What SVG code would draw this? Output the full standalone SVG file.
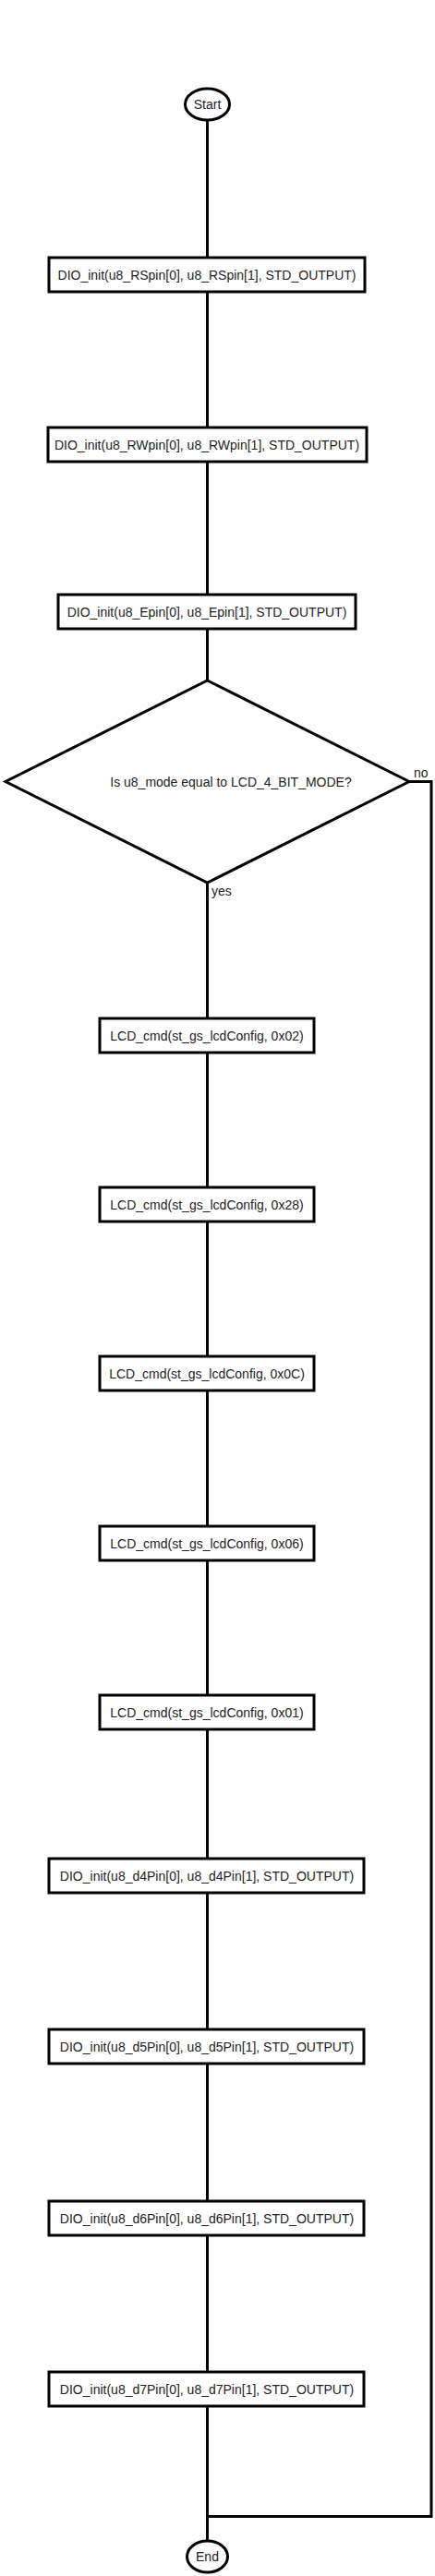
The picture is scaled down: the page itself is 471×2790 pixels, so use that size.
<svg xmlns="http://www.w3.org/2000/svg" width="471" height="2790" viewBox="0 0 471 2790">
<style>
.n{fill:#fff;stroke:#000;stroke-width:3}
.t{font-family:"Liberation Sans",Arial,sans-serif;font-size:14px;fill:#222;text-anchor:middle}
.l{font-family:"Liberation Sans",Arial,sans-serif;font-size:14px;fill:#222}
.c{fill:none;stroke:#000;stroke-width:3}
</style>
<rect width="471" height="2790" fill="#fff"/>
<g id="connectors">
<path class="c" d="M224.5 130V279"/>
<path class="c" d="M224.5 316V463"/>
<path class="c" d="M224.5 500V644"/>
<path class="c" d="M224.5 681V737"/>
<path class="c" d="M224.5 956V1103"/>
<path class="c" d="M224.5 1140V1286"/>
<path class="c" d="M224.5 1323V1469"/>
<path class="c" d="M224.5 1506V1653"/>
<path class="c" d="M224.5 1690V1836"/>
<path class="c" d="M224.5 1873V2013"/>
<path class="c" d="M224.5 2050V2198"/>
<path class="c" d="M224.5 2235V2384"/>
<path class="c" d="M224.5 2421V2569"/>
<path class="c" d="M224.5 2606V2752"/>
<path class="c" d="M443 846.5H467V2725.5H224.5"/>
<text class="l" x="448" y="842">no</text>
<text class="l" x="229" y="970">yes</text>
</g>
<g id="start"><ellipse class="n" cx="224.5" cy="113" rx="24" ry="17"/><text class="t" x="224.5" y="118">Start</text></g>
<g id="rs"><rect class="n" x="53" y="279" width="342" height="37"/><text class="t" x="224" y="302.5">DIO_init(u8_RSpin[0], u8_RSpin[1], STD_OUTPUT)</text></g>
<g id="rw"><rect class="n" x="52" y="463" width="345" height="37"/><text class="t" x="224" y="486.5">DIO_init(u8_RWpin[0], u8_RWpin[1], STD_OUTPUT)</text></g>
<g id="e"><rect class="n" x="63" y="644" width="322" height="37"/><text class="t" x="224" y="667.5">DIO_init(u8_Epin[0], u8_Epin[1], STD_OUTPUT)</text></g>
<g id="decision"><polygon class="n" points="224.5,737 443,846.5 224.5,956 6,846.5"/><text class="t" x="250" y="851.5">Is u8_mode equal to LCD_4_BIT_MODE?</text></g>
<g id="c02"><rect class="n" x="108" y="1103" width="232" height="37"/><text class="t" x="224" y="1126.5">LCD_cmd(st_gs_lcdConfig, 0x02)</text></g>
<g id="c28"><rect class="n" x="108" y="1286" width="232" height="37"/><text class="t" x="224" y="1309.5">LCD_cmd(st_gs_lcdConfig, 0x28)</text></g>
<g id="c0c"><rect class="n" x="108" y="1469" width="232" height="37"/><text class="t" x="224" y="1492.5">LCD_cmd(st_gs_lcdConfig, 0x0C)</text></g>
<g id="c06"><rect class="n" x="108" y="1653" width="232" height="37"/><text class="t" x="224" y="1676.5">LCD_cmd(st_gs_lcdConfig, 0x06)</text></g>
<g id="c01"><rect class="n" x="108" y="1836" width="232" height="37"/><text class="t" x="224" y="1859.5">LCD_cmd(st_gs_lcdConfig, 0x01)</text></g>
<g id="d4"><rect class="n" x="53" y="2013" width="341" height="37"/><text class="t" x="224" y="2036.5">DIO_init(u8_d4Pin[0], u8_d4Pin[1], STD_OUTPUT)</text></g>
<g id="d5"><rect class="n" x="53" y="2198" width="341" height="37"/><text class="t" x="224" y="2221.5">DIO_init(u8_d5Pin[0], u8_d5Pin[1], STD_OUTPUT)</text></g>
<g id="d6"><rect class="n" x="53" y="2384" width="341" height="37"/><text class="t" x="224" y="2407.5">DIO_init(u8_d6Pin[0], u8_d6Pin[1], STD_OUTPUT)</text></g>
<g id="d7"><rect class="n" x="53" y="2569" width="341" height="37"/><text class="t" x="224" y="2592.5">DIO_init(u8_d7Pin[0], u8_d7Pin[1], STD_OUTPUT)</text></g>
<g id="end"><ellipse class="n" cx="224.5" cy="2769" rx="22" ry="17"/><text class="t" x="224.5" y="2774">End</text></g>
</svg>
